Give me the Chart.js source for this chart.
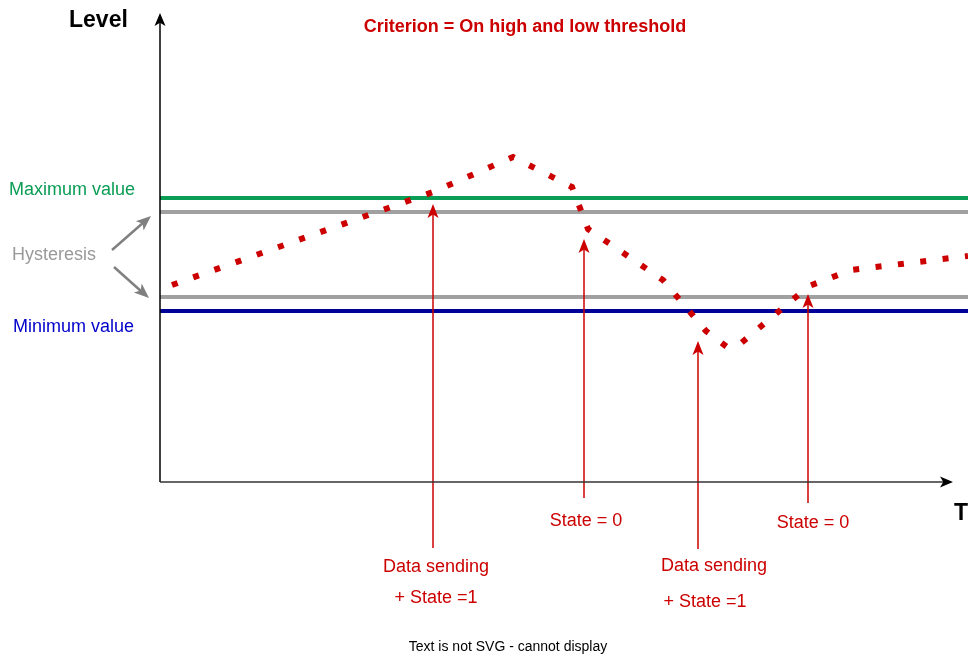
<!DOCTYPE html>
<html><head><meta charset="utf-8">
<script src="https://cdn.jsdelivr.net/npm/chart.js@4/dist/chart.umd.min.js"></script>
<style>html,body{margin:0;padding:0;background:#fff;}#wrap{width:973px;height:657px;}</style>
</head><body><div id="wrap"><canvas id="c" width="973" height="657"></canvas></div>
<script>
// Time / level signal (dotted red line)
const timeT = [12, 273, 353, 412, 428, 503, 546, 567, 580, 649, 691, 808];
const level = [197, 290, 325, 295, 253, 202, 151, 135, 138, 196, 212, 226];
// Threshold levels
const maxValue = 284;
const hystHigh = 270;
const hystLow = 185;
const minValue = 171;
// Events: time, arrow tip level, arrow tail level
const eventT = [273, 424, 538, 648];
const eventTip = [278, 243, 141, 188];
const eventTail = [-66, -16, -67, -21];
const eventLabels = [["Data sending", "+ State =1"], ["State = 0"], ["Data sending", "+ State =1"], ["State = 0"]];
const X_MAX = 808, Y_MIN = -175, Y_MAX = 468;

const RED = '#cc0000';
const F = '"Liberation Sans", Arial, sans-serif';

const hline = (v, color) => ({ data: [{x: 0, y: v}, {x: X_MAX, y: v}], borderColor: color, borderWidth: 4, pointRadius: 0, order: 2 });

const datasets = [
  hline(maxValue, '#0a9d55'),
  hline(hystHigh, '#a0a0a0'),
  hline(hystLow, '#a0a0a0'),
  hline(minValue, '#000099'),
  { data: timeT.map((t, i) => ({x: t, y: level[i]})), borderColor: RED, borderWidth: 6, borderDash: [6, 16.5], borderCapStyle: 'butt', pointRadius: 0, order: 1 }
];
eventT.forEach((t, i) => {
  datasets.push({ data: [{x: t, y: eventTail[i]}, {x: t, y: eventTip[i] - 10}], borderColor: RED, borderWidth: 1.5, pointRadius: 0, order: 0 });
});

function arrowHead(ctx, x, y, angle, len, wid, color) {
  ctx.save();
  ctx.translate(x, y); ctx.rotate(angle);
  ctx.fillStyle = color;
  ctx.beginPath();
  ctx.moveTo(0, 0);
  ctx.lineTo(-len, -wid / 2);
  ctx.lineTo(-len * 0.75, 0);
  ctx.lineTo(-len, wid / 2);
  ctx.closePath();
  ctx.fill();
  ctx.restore();
}

const deco = {
  id: 'deco',
  afterDatasetsDraw(chart) {
    const ctx = chart.ctx, xs = chart.scales.x, ys = chart.scales.y;
    const X = v => xs.getPixelForValue(v), Y = v => ys.getPixelForValue(v);
    ctx.save();
    // axes
    ctx.strokeStyle = '#000'; ctx.lineWidth = 1.5;
    ctx.beginPath(); ctx.moveTo(X(0), Y(0)); ctx.lineTo(X(0), Y(Y_MAX) + 8); ctx.stroke();
    arrowHead(ctx, X(0), Y(Y_MAX) - 1, -Math.PI / 2, 13, 11, '#000');
    ctx.strokeStyle = '#333';
    ctx.beginPath(); ctx.moveTo(X(0), Y(0)); ctx.lineTo(X(793) - 8, Y(0)); ctx.stroke();
    arrowHead(ctx, X(793), Y(0), 0, 13, 11, '#000');
    // event arrowheads
    eventT.forEach((t, i) => arrowHead(ctx, X(t), Y(eventTip[i]), -Math.PI / 2, 14, 11, RED));
    // hysteresis arrows
    ctx.strokeStyle = '#808080'; ctx.lineWidth = 2.5;
    ctx.beginPath(); ctx.moveTo(112, 250); ctx.lineTo(144, 222); ctx.stroke();
    arrowHead(ctx, 151, 216, Math.atan2(-34, 39), 15, 12, '#808080');
    ctx.beginPath(); ctx.moveTo(114, 267); ctx.lineTo(142, 292); ctx.stroke();
    arrowHead(ctx, 149, 298, Math.atan2(31, 35), 15, 12, '#808080');
    // texts
    ctx.textBaseline = 'middle';
    ctx.textAlign = 'left';
    ctx.font = 'bold 23px ' + F; ctx.fillStyle = '#000';
    ctx.fillText('Level', 69, 21);
    ctx.fillText('T', 954, 514);
    ctx.font = '18px ' + F;
    ctx.fillStyle = '#0a9d55'; ctx.fillText('Maximum value', 9, 190);
    ctx.fillStyle = '#999999'; ctx.fillText('Hysteresis', 12, 255);
    ctx.fillStyle = '#0000cc'; ctx.fillText('Minimum value', 13, 327);
    ctx.textAlign = 'center';
    ctx.font = 'bold 18px ' + F; ctx.fillStyle = RED;
    ctx.fillText('Criterion = On high and low threshold', 525, 27);
    ctx.font = '18px ' + F;
    const labelPos = [[436, 567, 598], [586, 521], [714, 566, 602], [813, 523]];
    eventLabels.forEach((lines, i) => {
      lines.forEach((s, j) => ctx.fillText(s, labelPos[i][0] + (j === 1 && i === 2 ? -9 : 0), labelPos[i][1 + j]));
    });
    ctx.font = '14px ' + F; ctx.fillStyle = '#000';
    ctx.textBaseline = 'alphabetic';
    ctx.fillText('Text is not SVG - cannot display', 508, 651);
    ctx.restore();
  }
};

new Chart(document.getElementById('c'), {
  type: 'line',
  data: { datasets },
  options: {
    responsive: false, animation: false, devicePixelRatio: 1,
    layout: { padding: { left: 160, right: 5, top: 14, bottom: 0 } },
    plugins: { legend: { display: false }, tooltip: { enabled: false } },
    scales: {
      x: { type: 'linear', min: 0, max: X_MAX, display: false },
      y: { type: 'linear', min: Y_MIN, max: Y_MAX, display: false }
    }
  },
  plugins: [deco]
});
</script>
</body></html>
